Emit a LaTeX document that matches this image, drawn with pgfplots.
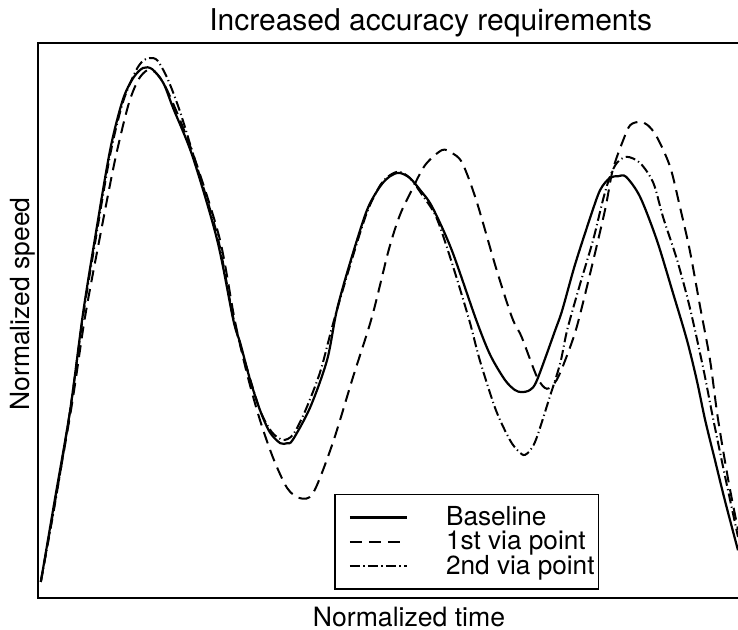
\documentclass[border=0pt]{standalone}
\usepackage{fontspec}
\setmainfont{TeX Gyre Heros}
\usepackage{pgfplots}
\pgfplotsset{compat=1.18}
\begin{document}
\begin{tikzpicture}
\useasboundingbox (0,0) rectangle (369pt,314.5pt);
\begin{axis}[
  at={(19pt,15.5pt)}, anchor=south west,
  scale only axis, width=353.5pt, height=277.5pt,
  xmin=0, xmax=1.01, ymin=0, ymax=1,
  xtick=\empty, ytick=\empty,
  axis line style={line width=1pt},
  every axis title shift=0pt,
  title={Increased accuracy requirements},
  title style={at={(axis description cs:0.5554,1)}, anchor=base, yshift=6.15pt, inner sep=0pt, font=\fontsize{15}{18}\selectfont},
  xlabel={Normalized time},
  xlabel style={at={(axis description cs:0.5248,0)}, anchor=base, yshift=-14pt, inner sep=0pt, font=\fontsize{13.3}{16}\selectfont},
  ylabel={Normalized speed},
  ylabel style={at={([xshift=-1pt]axis description cs:0,0.530)}, anchor=south, inner sep=0pt, font=\fontsize{13.2}{16}\selectfont},
  legend cell align=left,
  legend style={at={(axis description cs:0.4187,0.0144)}, anchor=south west, draw=black, line width=0.8pt,
    inner xsep=2pt, inner ysep=4pt, font=\fontsize{13.1}{14}\selectfont, row sep=-2.75pt,
    nodes={inner xsep=0pt},
    /tikz/every odd column/.append style={column sep=19pt}},
  legend image code/.code={\path (0pt,0pt) (33.5pt,0pt); \draw[#1] (5pt,0pt) -- (33.5pt,0pt);},
]
\addplot[black, line width=1.1pt, smooth] coordinates {
(0.004,0.029) (0.024,0.177) (0.046,0.339) (0.064,0.510) (0.081,0.645) (0.103,0.807)
(0.121,0.897) (0.136,0.937) (0.150,0.955) (0.163,0.953) (0.179,0.928) (0.193,0.883)
(0.221,0.795) (0.256,0.645) (0.279,0.501) (0.289,0.459) (0.303,0.393) (0.317,0.339)
(0.331,0.299) (0.346,0.279) (0.356,0.279) (0.364,0.285) (0.389,0.344) (0.413,0.429)
(0.427,0.519) (0.446,0.605) (0.470,0.699) (0.489,0.742) (0.503,0.760) (0.516,0.766)
(0.531,0.757) (0.546,0.735) (0.563,0.705) (0.591,0.627) (0.626,0.501) (0.646,0.438)
(0.667,0.393) (0.681,0.375) (0.691,0.371) (0.703,0.375) (0.713,0.393) (0.739,0.483)
(0.749,0.519) (0.767,0.600) (0.789,0.686) (0.803,0.735) (0.817,0.757) (0.829,0.760)
(0.840,0.759) (0.860,0.723) (0.884,0.645) (0.907,0.550) (0.927,0.465) (0.941,0.393)
(0.953,0.321) (0.967,0.249) (0.981,0.177) (1.000,0.086)
};
\addlegendentry{Baseline}
\addplot[black, line width=1pt, smooth, dash pattern=on 6pt off 3.5pt] coordinates {
(0.004,0.029) (0.046,0.330) (0.067,0.505) (0.089,0.654) (0.110,0.789) (0.129,0.888)
(0.143,0.933) (0.156,0.951) (0.167,0.948) (0.181,0.924) (0.203,0.861) (0.227,0.780)
(0.260,0.645) (0.281,0.501) (0.299,0.402) (0.317,0.321) (0.336,0.252) (0.356,0.198)
(0.374,0.180) (0.393,0.189) (0.421,0.279) (0.450,0.398) (0.477,0.506) (0.501,0.627)
(0.517,0.690) (0.534,0.735) (0.553,0.780) (0.577,0.807) (0.591,0.802) (0.606,0.784)
(0.626,0.717) (0.654,0.596) (0.677,0.506) (0.691,0.470) (0.713,0.398) (0.727,0.377)
(0.741,0.393) (0.756,0.438) (0.770,0.490) (0.789,0.586) (0.810,0.699) (0.821,0.771)
(0.836,0.825) (0.846,0.852) (0.860,0.858) (0.871,0.852) (0.884,0.831) (0.903,0.777)
(0.917,0.705) (0.931,0.627) (0.946,0.524) (0.960,0.429) (0.971,0.326) (0.986,0.213)
(1.000,0.123)
};
\addlegendentry{1st via point}
\addplot[black, line width=1pt, smooth, dash pattern=on 5pt off 1.7pt on 0.6pt off 1.7pt] coordinates {
(0.004,0.029) (0.024,0.168) (0.046,0.339) (0.064,0.505) (0.081,0.636) (0.103,0.798)
(0.121,0.892) (0.139,0.948) (0.150,0.968) (0.160,0.973) (0.171,0.968) (0.186,0.933)
(0.203,0.876) (0.221,0.802) (0.256,0.654) (0.279,0.505) (0.296,0.425) (0.317,0.339)
(0.334,0.299) (0.350,0.285) (0.364,0.294) (0.381,0.335) (0.403,0.407) (0.421,0.492)
(0.446,0.600) (0.470,0.695) (0.489,0.744) (0.503,0.762) (0.516,0.768) (0.531,0.757)
(0.549,0.726) (0.569,0.686) (0.591,0.605) (0.616,0.501) (0.631,0.429) (0.654,0.339)
(0.674,0.285) (0.686,0.265) (0.696,0.258) (0.710,0.281) (0.731,0.362) (0.746,0.423)
(0.756,0.483) (0.774,0.564) (0.793,0.645) (0.807,0.717) (0.817,0.759) (0.827,0.784)
(0.841,0.795) (0.860,0.784) (0.879,0.748) (0.893,0.686) (0.913,0.609) (0.931,0.524)
(0.950,0.416) (0.964,0.326) (0.981,0.222) (1.000,0.110)
};
\addlegendentry{2nd via point}
\end{axis}
\end{tikzpicture}
\end{document}
